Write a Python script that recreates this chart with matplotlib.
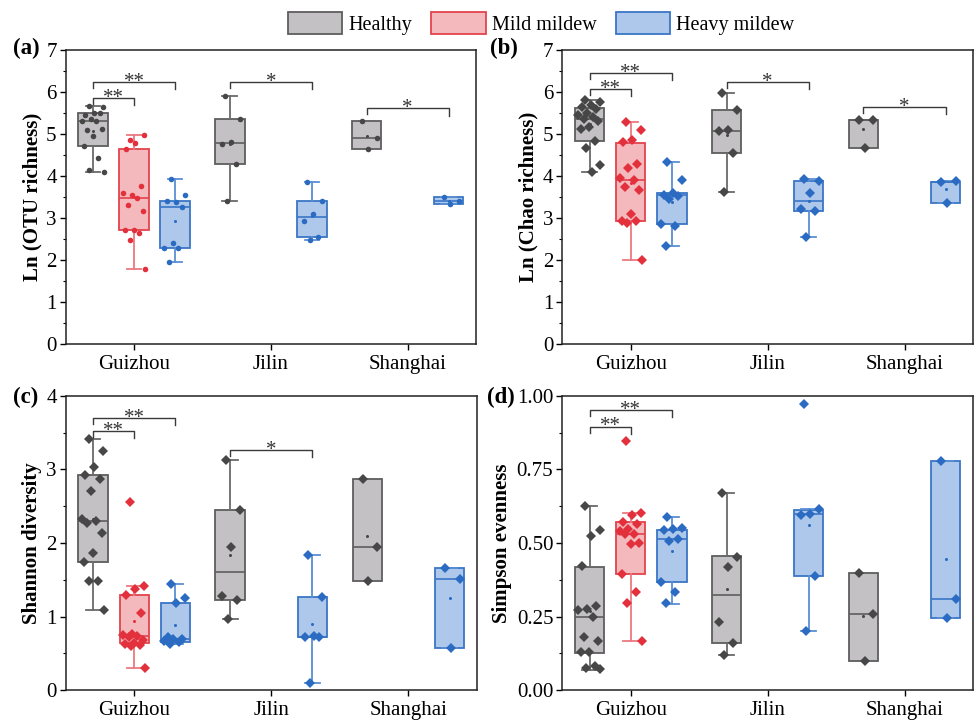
import numpy as np
import matplotlib
matplotlib.use("Agg")
import matplotlib.pyplot as plt
from matplotlib.patches import Patch

plt.rcParams['font.family'] = ['Liberation Serif', 'DejaVu Serif']
plt.rcParams['mathtext.fontset'] = 'stix'

# ---------------- data ----------------
regions = ['Guizhou', 'Jilin', 'Shanghai']
conditions = ['Healthy', 'Mild mildew', 'Heavy mildew']
# group order: GZ-Healthy, GZ-Mild, GZ-Heavy, JL-Healthy, JL-Heavy, SH-Healthy, SH-Heavy
group_region = [0, 0, 0, 1, 1, 2, 2]
group_cond = [0, 1, 2, 0, 2, 0, 2]

# (a) Ln (OTU richness)
a_whislo = [4.09, 1.79, 1.95, 3.40, 2.48, 4.64, 3.34]
a_q1 = [4.72, 2.71, 2.30, 4.28, 2.56, 4.64, 3.34]
a_med = [5.30, 3.47, 3.26, 4.79, 3.02, 4.90, 3.40]
a_q3 = [5.49, 4.65, 3.42, 5.37, 3.42, 5.31, 3.51]
a_whishi = [5.67, 4.99, 3.93, 5.90, 3.87, 5.31, 3.51]
a_points = [
    [5.67, 5.64, 5.49, 5.45, 5.49, 5.36, 5.30, 5.30, 5.09, 5.11, 4.95, 4.72, 4.43, 4.14, 4.09],
    [4.86, 4.99, 4.78, 4.65, 3.77, 3.56, 3.61, 3.47, 3.31, 3.18, 2.71, 2.71, 2.64, 2.48, 1.79],
    [3.93, 3.54, 3.38, 3.42, 3.26, 2.40, 2.30, 2.30, 1.95],
    [5.90, 5.37, 4.80, 4.77, 4.28, 3.40],
    [3.87, 3.42, 3.11, 2.94, 2.56, 2.48],
    [5.31, 4.90, 4.64],
    [3.51, 3.40, 3.34],
]
a_sig_y = [5.86, 6.23, 6.23, 5.61]
a_sig_text = ['**', '**', '*', '*']

# (b) Ln (Chao richness)
b_whislo = [4.11, 2.01, 2.34, 3.62, 2.56, 4.68, 3.35]
b_q1 = [4.84, 2.94, 2.86, 4.54, 3.16, 4.68, 3.35]
b_med = [5.37, 3.91, 3.54, 5.07, 3.42, 5.34, 3.85]
b_q3 = [5.61, 4.79, 3.59, 5.57, 3.89, 5.34, 3.87]
b_whishi = [5.80, 5.28, 4.33, 5.98, 3.93, 5.34, 3.88]
b_points = [
    [5.80, 5.77, 5.68, 5.64, 5.60, 5.50, 5.45, 5.41, 5.35, 5.30, 5.18, 5.11, 4.84, 4.68, 4.27, 4.11],
    [5.28, 5.10, 4.86, 4.80, 4.30, 4.20, 3.95, 3.91, 3.73, 3.67, 3.09, 2.94, 2.94, 2.89, 2.01],
    [4.33, 3.91, 3.61, 3.54, 3.52, 3.46, 2.86, 2.82, 2.34],
    [5.98, 5.57, 5.09, 5.07, 4.54, 3.62],
    [3.93, 3.89, 3.61, 3.23, 3.16, 2.56],
    [5.34, 5.34, 4.68],
    [3.85, 3.88, 3.35],
]
b_sig_y = [6.08, 6.46, 6.23, 5.65]
b_sig_text = ['**', '**', '*', '*']

# (c) Shannon diversity
c_whislo = [1.09, 0.30, 0.63, 0.97, 0.10, 1.48, 0.57]
c_q1 = [1.74, 0.64, 0.66, 1.23, 0.72, 1.48, 0.57]
c_med = [2.30, 0.74, 0.69, 1.61, 0.73, 1.94, 1.51]
c_q3 = [2.92, 1.29, 1.18, 2.45, 1.27, 2.87, 1.66]
c_whishi = [3.41, 1.41, 1.44, 3.13, 1.84, 2.87, 1.66]
c_points = [
    [3.41, 3.25, 3.03, 2.92, 2.87, 2.71, 2.32, 2.30, 2.27, 2.13, 1.86, 1.74, 1.49, 1.48, 1.09],
    [2.56, 1.41, 1.38, 1.29, 1.05, 0.77, 0.75, 0.74, 0.72, 0.68, 0.64, 0.63, 0.62, 0.60, 0.30],
    [1.44, 1.25, 1.18, 0.72, 0.70, 0.69, 0.67, 0.65, 0.63],
    [3.13, 2.45, 1.94, 1.28, 1.22, 0.97],
    [1.84, 1.27, 0.74, 0.72, 0.72, 0.10],
    [2.87, 1.94, 1.48],
    [1.66, 1.51, 0.57],
]
c_sig_y = [3.52, 3.70, 3.26]
c_sig_text = ['**', '**', '*']

# (d) Simpson evenness
d_whislo = [0.068, 0.169, 0.294, 0.120, 0.201, 0.101, 0.245]
d_q1 = [0.128, 0.395, 0.368, 0.162, 0.389, 0.101, 0.245]
d_med = [0.248, 0.532, 0.512, 0.325, 0.598, 0.258, 0.310]
d_q3 = [0.420, 0.570, 0.545, 0.456, 0.611, 0.397, 0.777]
d_whishi = [0.626, 0.603, 0.589, 0.671, 0.614, 0.397, 0.777]
d_points = [
    [0.626, 0.544, 0.524, 0.422, 0.287, 0.276, 0.273, 0.248, 0.182, 0.167, 0.129, 0.129, 0.083, 0.075, 0.071],
    [0.846, 0.603, 0.594, 0.572, 0.564, 0.547, 0.540, 0.532, 0.530, 0.501, 0.497, 0.395, 0.334, 0.298, 0.169],
    [0.589, 0.550, 0.548, 0.545, 0.514, 0.508, 0.368, 0.335, 0.295],
    [0.671, 0.454, 0.417, 0.232, 0.162, 0.120],
    [0.972, 0.614, 0.600, 0.595, 0.389, 0.201],
    [0.397, 0.258, 0.101],
    [0.777, 0.310, 0.245],
]
d_sig_y = [0.895, 0.951]
d_sig_text = ['**', '**']

# significance pairs (group indices)
sig_pairs = [(0, 1), (0, 2), (3, 4), (5, 6)]

# ---------------- style ----------------
face_cols = ['#c3c1c4', '#f4b9bd', '#adc8ea']
edge_cols = ['#5e5e5e', '#e2434d', '#3a76c6']
whisk_cols = ['#6a6a6a', '#ec7880', '#5b8fd4']
pt_cols = ['#474747', '#e3303d', '#2b6cc2']
cond_offset = [-0.3, 0.0, 0.3]
box_w = 0.215

fig = plt.figure(figsize=(9.75, 7.2), dpi=100)
W, H = 975.0, 720.0
ax_rects = {
    'a': [65.7 / W, 1 - 344.3 / H, (476 - 65.7) / W, (344.3 - 50) / H],
    'b': [562.3 / W, 1 - 344.3 / H, (973 - 562.3) / W, (344.3 - 50) / H],
    'c': [65.7 / W, 1 - 690.3 / H, (477 - 65.7) / W, (690.3 - 395.7) / H],
    'd': [562.3 / W, 1 - 690.3 / H, (973 - 562.3) / W, (690.3 - 395.7) / H],
}

panels = [
    ('a', a_whislo, a_q1, a_med, a_q3, a_whishi, a_points, a_sig_y, a_sig_text,
     'Ln (OTU richness)', (0, 7), np.arange(0, 8, 1), 0.5, 'o', '%d'),
    ('b', b_whislo, b_q1, b_med, b_q3, b_whishi, b_points, b_sig_y, b_sig_text,
     'Ln (Chao richness)', (0, 7), np.arange(0, 8, 1), 0.5, 'D', '%d'),
    ('c', c_whislo, c_q1, c_med, c_q3, c_whishi, c_points, c_sig_y, c_sig_text,
     'Shannon diversity', (0, 4), np.arange(0, 5, 1), 0.5, 'D', '%d'),
    ('d', d_whislo, d_q1, d_med, d_q3, d_whishi, d_points, d_sig_y, d_sig_text,
     'Simpson evenness', (0, 1), np.arange(0, 1.01, 0.25), 0.125, 'D', '%.2f'),
]

label_pos = {'a': (13 / W, 1 - 48 / H), 'b': (490 / W, 1 - 48 / H),
             'c': (13 / W, 1 - 397 / H), 'd': (487 / W, 1 - 397 / H)}

for (key, wlo, q1, med, q3, whi, pts, sig_y, sig_txt, ylab, ylim, yt, minor,
     mk, fmt) in panels:
    ax = fig.add_axes(ax_rects[key])
    positions = [group_region[g] + 1 + cond_offset[group_cond[g]] for g in range(7)]
    stats = []
    for g in range(7):
        stats.append(dict(whislo=wlo[g], q1=q1[g], med=med[g], q3=q3[g],
                          whishi=whi[g], fliers=[]))
    bp = ax.bxp(stats, positions=positions, widths=box_w, patch_artist=True,
                showfliers=False, capwidths=box_w * 0.5, zorder=2)
    for g in range(7):
        c = group_cond[g]
        bp['boxes'][g].set(facecolor=face_cols[c], edgecolor=edge_cols[c], linewidth=1.3)
        bp['medians'][g].set(color=edge_cols[c], linewidth=1.2)
        for ln in bp['whiskers'][2 * g:2 * g + 2]:
            ln.set(color=whisk_cols[c], linewidth=1.3)
        for ln in bp['caps'][2 * g:2 * g + 2]:
            ln.set(color=whisk_cols[c], linewidth=1.3)
        vals = np.asarray(pts[g])
        n = len(vals)
        offs = (((np.arange(n) * 0.618034) + 0.31) % 1 - 0.5) * 0.17
        ms = 4.0 if mk == 'o' else 4.6
        ax.plot(positions[g] + offs, vals, linestyle='none', marker=mk,
                markersize=ms, color=pt_cols[c], markeredgewidth=0, zorder=4)
        ax.plot([positions[g]], [vals.mean()], linestyle='none', marker='o',
                markersize=2.2, color=pt_cols[c], markeredgewidth=0, zorder=4)

    # significance brackets
    yr = ylim[1] - ylim[0]
    drop = 0.02 * yr
    for (pair, y, txt) in zip(sig_pairs, sig_y, sig_txt):
        x1, x2 = positions[pair[0]], positions[pair[1]]
        ax.plot([x1, x1, x2, x2], [y - drop, y, y, y - drop * 1.2],
                color='#3a3a3a', linewidth=1.0, zorder=5)
        ax.annotate(txt, xy=((x1 + x2) / 2, y), xytext=(0, -3.5),
                    textcoords='offset points', ha='center', va='baseline',
                    fontsize=15, color='#333333')

    ax.set_xlim(0.5, 3.5)
    ax.set_ylim(*ylim)
    ax.set_xticks([1, 2, 3])
    ax.set_xticklabels(regions, fontsize=15)
    ax.set_yticks(yt)
    ax.set_yticklabels([fmt % v for v in yt], fontsize=15)
    ax.set_yticks(np.arange(ylim[0], ylim[1] + 1e-9, minor), minor=True)
    ax.tick_params(axis='both', which='major', direction='out', length=4.5,
                   width=1.0, pad=2)
    ax.tick_params(axis='x', which='major', pad=3)
    ax.tick_params(axis='y', which='minor', direction='out', length=2.5, width=0.8)
    ax.set_ylabel(ylab, fontsize=15, fontweight='bold', labelpad=3)
    for sp in ax.spines.values():
        sp.set_linewidth(1.1)
        sp.set_color('#222222')
    fig.text(label_pos[key][0], label_pos[key][1], '(%s)' % key, fontsize=16.5,
             fontweight='bold', ha='left', va='center')

handles = [Patch(facecolor=face_cols[i], edgecolor=edge_cols[i], linewidth=1.3,
                 label=conditions[i]) for i in range(3)]
fig.legend(handles=handles, loc='center', bbox_to_anchor=(0.555, 0.967),
           ncol=3, frameon=False, fontsize=14.5, handlelength=2.7,
           handleheight=1.3, handletextpad=0.3, columnspacing=0.95,
           borderpad=0)

fig.savefig('out.png', dpi=100)
